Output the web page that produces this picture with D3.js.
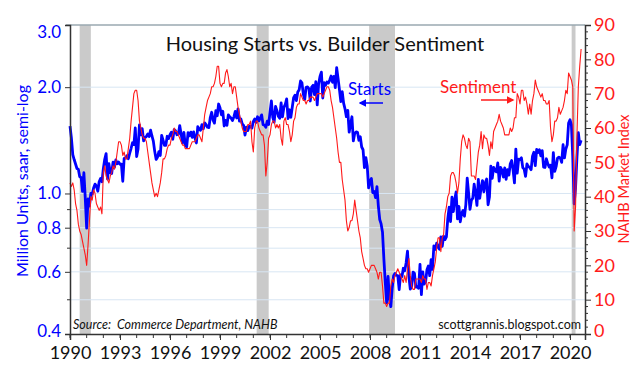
<!DOCTYPE html>
<html lang="en">
<head>
    <meta charset="UTF-8">
    <title>Housing Starts vs. Builder Sentiment</title>
    <script src="https://d3js.org/d3.v7.min.js"></script>
    <style>
        body { margin: 0; padding: 0; background: #fff; }
        svg { display: block; font-family: "Lato", "Open Sans", sans-serif; }
    </style>
</head>
<body>
<div id="chart"></div>
<script>
    // monthly data, Jan 1990 .. Sep 2020
    const firstYear = 1990;

    // housing starts, thousands, saar
    const startsK = [
        1551, 1437, 1289, 1248, 1212, 1177, 1171, 1115, 1110, 1014, 1145, 969,
        798, 965, 921, 1001, 996, 1036, 1063, 1049, 1015, 1079, 1103, 1079,
        1176, 1250, 1297, 1099, 1214, 1145, 1139, 1226, 1186, 1244, 1214, 1227,
        1210, 1210, 1083, 1258, 1260, 1280, 1254, 1300, 1343, 1392, 1376, 1533,
        1272, 1337, 1564, 1465, 1526, 1409, 1439, 1450, 1474, 1450, 1511, 1455,
        1407, 1316, 1249, 1267, 1314, 1281, 1461, 1416, 1369, 1369, 1452, 1431,
        1467, 1491, 1424, 1516, 1504, 1467, 1472, 1557, 1475, 1392, 1489, 1370,
        1355, 1486, 1457, 1492, 1442, 1494, 1437, 1390, 1546, 1520, 1510, 1566,
        1525, 1584, 1567, 1540, 1536, 1641, 1698, 1614, 1582, 1715, 1660, 1792,
        1748, 1670, 1710, 1553, 1611, 1559, 1669, 1648, 1635, 1608, 1648, 1708,
        1636, 1737, 1604, 1626, 1575, 1559, 1463, 1541, 1507, 1549, 1551, 1532,
        1600, 1625, 1590, 1649, 1605, 1636, 1670, 1567, 1562, 1540, 1602, 1568,
        1698, 1829, 1642, 1592, 1764, 1717, 1655, 1633, 1804, 1648, 1753, 1788,
        1853, 1629, 1726, 1643, 1751, 1867, 1897, 1833, 1939, 1967, 2083, 2057,
        1911, 1846, 1998, 2003, 1981, 1828, 2002, 2024, 1905, 2072, 1782, 2042,
        2144, 2207, 1864, 2061, 2025, 2068, 2054, 2095, 2151, 2065, 2147, 1994,
        2273, 2119, 1969, 1821, 1942, 1802, 1737, 1650, 1720, 1491, 1570, 1649,
        1409, 1480, 1495, 1490, 1415, 1448, 1354, 1330, 1183, 1264, 1197, 1037,
        1084, 1103, 1005, 1013, 973, 1046, 923, 844, 820, 777, 652, 560,
        490, 582, 505, 478, 540, 585, 594, 586, 585, 534, 588, 581,
        614, 604, 636, 687, 583, 536, 546, 599, 594, 543, 545, 539,
        630, 517, 600, 554, 561, 608, 623, 585, 650, 610, 711, 694,
        723, 704, 695, 753, 708, 757, 740, 754, 847, 915, 833, 976,
        888, 962, 1010, 847, 919, 831, 880, 895, 862, 930, 1105, 1003,
        902, 957, 970, 1063, 1002, 925, 1097, 969, 1038, 1088, 1011, 1072,
        1099, 929, 977, 1196, 1103, 1186, 1160, 1152, 1220, 1084, 1185, 1164,
        1113, 1182, 1096, 1168, 1127, 1214, 1240, 1166, 1071, 1336, 1142, 1250,
        1248, 1262, 1184, 1172, 1118, 1212, 1192, 1185, 1168, 1275, 1308, 1200,
        1333, 1307, 1330, 1278, 1323, 1188, 1185, 1254, 1215, 1188, 1203, 1108,
        1305, 1155, 1191, 1259, 1267, 1259, 1225, 1374, 1261, 1337, 1373, 1584,
        1617, 1567, 1269, 934, 1038, 1265, 1487, 1376, 1415
    ];

    // NAHB housing market index
    const nahb = [
        44, 43, 44, 42, 38, 36, 32, 30, 29, 27, 25, 23,
        20, 26, 33, 40, 39, 42, 41, 38, 37, 36, 37, 35,
        47, 49, 46, 45, 44, 46, 47, 49, 48, 50, 53, 56,
        56, 55, 52, 53, 51, 51, 54, 57, 62, 66, 70, 71,
        71, 68, 62, 60, 58, 57, 57, 56, 53, 50, 47, 44,
        42, 40, 41, 40, 42, 44, 47, 51, 51, 52, 54, 55,
        55, 57, 58, 60, 59, 59, 58, 57, 56, 55, 55, 54,
        54, 54, 54, 55, 56, 56, 56, 57, 58, 58, 57, 56,
        60, 64, 66, 68, 69, 70, 72, 72, 73, 75, 78, 78,
        73, 72, 73, 73, 76, 77, 75, 72, 73, 70, 72, 72,
        69, 66, 64, 62, 60, 59, 59, 59, 61, 61, 62, 56,
        53, 60, 62, 62, 60, 59, 58, 58, 55, 46, 50, 57,
        58, 61, 62, 62, 60, 61, 60, 61, 57, 55, 62, 63,
        61, 61, 59, 56, 58, 62, 63, 66, 67, 67, 70, 69,
        68, 68, 67, 68, 68, 69, 69, 69, 68, 69, 70, 70,
        70, 70, 69, 70, 71, 72, 72, 71, 68, 66, 63, 60,
        57, 53, 50, 50, 45, 42, 39, 33, 30, 31, 33, 33,
        35, 39, 36, 33, 30, 28, 24, 22, 20, 19, 19, 18,
        19, 20, 20, 20, 19, 18, 16, 18, 18, 14, 9, 9,
        8, 9, 9, 14, 16, 15, 17, 18, 19, 18, 17, 16,
        15, 17, 15, 19, 22, 17, 14, 13, 13, 16, 16, 16,
        16, 15, 17, 16, 16, 13, 15, 15, 14, 17, 19, 21,
        25, 28, 28, 24, 28, 29, 35, 37, 40, 41, 46, 47,
        47, 46, 44, 41, 44, 51, 56, 58, 57, 55, 54, 57,
        56, 46, 46, 46, 45, 49, 53, 55, 59, 54, 58, 57,
        57, 55, 52, 56, 54, 59, 60, 61, 62, 64, 62, 61,
        60, 58, 58, 58, 58, 60, 59, 60, 63, 63, 70, 69,
        67, 71, 71, 68, 69, 67, 64, 67, 64, 68, 70, 74,
        72, 71, 70, 69, 70, 68, 68, 67, 67, 68, 60, 56,
        58, 62, 62, 63, 66, 64, 65, 66, 68, 71, 70, 76,
        75, 74, 72, 30, 37, 58, 72, 78, 83
    ];

    // recessions [start, end] in fractional years
    const recessions = [[1990.58, 1991.25], [2001.2, 2001.92], [2007.95, 2009.5], [2020.1, 2020.33]];

    const leftTicks = [0.4, 0.6, 0.8, 1.0, 2.0, 3.0];
    const leftMinor = [0.5, 0.7, 0.9];
    const gridValues = [0.5, 0.6, 0.7, 0.8, 0.9, 1.0, 2.0];
    const rightTicks = [0, 10, 20, 30, 40, 50, 60, 70, 80, 90];
    const yearTicks = [1990, 1993, 1996, 1999, 2002, 2005, 2008, 2011, 2014, 2017, 2020];

    const W = 639, H = 373;
    const m = { left: 70, right: 54, top: 25, bottom: 39 };
    const x0 = m.left, x1 = W - m.right, y0 = m.top, y1 = H - m.bottom;

    const svg = d3.select("#chart").append("svg")
        .attr("width", W).attr("height", H);

    const x = d3.scaleLinear().domain([1990, 2020.9]).range([x0, x1]);
    const yL = d3.scaleLog().domain([0.4, 3]).range([y1, y0]);
    const yR = d3.scaleLinear().domain([0, 90]).range([y1, y0]);

    const t = i => firstYear + i / 12;

    // recession bars
    svg.append("g").selectAll("rect")
        .data(recessions)
        .join("rect")
        .attr("x", d => x(d[0]))
        .attr("width", d => x(d[1]) - x(d[0]))
        .attr("y", y0).attr("height", y1 - y0)
        .attr("fill", "#cacaca");

    // gridlines
    svg.append("g").selectAll("line")
        .data(gridValues)
        .join("line")
        .attr("x1", x0).attr("x2", x1)
        .attr("y1", d => yL(d)).attr("y2", d => yL(d))
        .attr("stroke", "#d8e6f3").attr("stroke-width", 1);

    // frame top
    svg.append("line")
        .attr("x1", x0 - 4).attr("x2", x1).attr("y1", y0).attr("y2", y0)
        .attr("stroke", "#9aa8b0").attr("stroke-width", 1.5);

    // lines
    const lineR = d3.line().x((d, i) => x(t(i))).y(d => yR(d));
    const lineL = d3.line().x((d, i) => x(t(i))).y(d => yL(d / 1000));

    svg.append("path").datum(startsK)
        .attr("d", lineL).attr("fill", "none")
        .attr("stroke", "#0000ff").attr("stroke-width", 2.8)
        .attr("stroke-linejoin", "round");

    svg.append("path").datum(nahb)
        .attr("d", lineR).attr("fill", "none")
        .attr("stroke", "#ff1a1a").attr("stroke-width", 1.1)
        .attr("stroke-linejoin", "round");

    // left axis
    const axL = svg.append("g").attr("transform", `translate(${x0},0)`)
        .call(d3.axisLeft(yL).tickValues(leftTicks).tickFormat(d3.format(".1f")).tickSize(5).tickPadding(4));
    axL.append("g").selectAll("line").data(leftMinor).join("line")
        .attr("x1", -3).attr("x2", 0).attr("y1", d => yL(d)).attr("y2", d => yL(d))
        .attr("stroke", "#333");

    // right axis
    const axR = svg.append("g").attr("transform", `translate(${x1},0)`)
        .call(d3.axisRight(yR).tickValues(rightTicks).tickSize(6).tickPadding(3));
    axR.append("g").selectAll("line").data(d3.range(0, 91, 2).filter(v => v % 10)).join("line")
        .attr("x1", 0).attr("x2", 3).attr("y1", d => yR(d)).attr("y2", d => yR(d))
        .attr("stroke", "#333");

    // bottom axis
    const axB = svg.append("g").attr("transform", `translate(0,${y1})`)
        .call(d3.axisBottom(x).tickValues(yearTicks).tickFormat(d3.format("d")).tickSize(6).tickPadding(6));
    axB.append("g").selectAll("line").data(d3.range(1990, 2021)).join("line")
        .attr("x1", d => x(d)).attr("x2", d => x(d)).attr("y1", 0).attr("y2", 4)
        .attr("stroke", "#333");

    [axL, axR, axB].forEach(a => {
        a.select(".domain").attr("stroke", "#333").attr("stroke-width", 1.5);
        a.selectAll(".tick line").attr("stroke", "#333");
        a.selectAll("text").attr("font-family", "Lato, sans-serif").attr("font-size", 18);
    });
    axL.selectAll("text").attr("fill", "#0000ff").attr("font-size", 17);
    // keep end labels inside the frame like the original
    axL.selectAll(".tick text").attr("dy", d => d === 3 ? "0.75em" : d === 0.4 ? "0.15em" : "0.32em");
    axR.selectAll("text").attr("fill", "#ff1a1a");
    axR.selectAll(".tick text").attr("dy", d => d === 0 ? "0.15em" : "0.32em");
    axB.selectAll("text").attr("fill", "#111").attr("font-size", 18);

    // axis titles
    svg.append("text")
        .attr("transform", "translate(28,181) rotate(-90)")
        .attr("text-anchor", "middle").attr("font-size", 16)
        .attr("fill", "#0000ff")
        .text("Million Units, saar, semi-log");

    svg.append("text")
        .attr("transform", "translate(629,179) rotate(-90)")
        .attr("text-anchor", "middle").attr("font-size", 14.5)
        .attr("fill", "#ff1a1a")
        .text("NAHB Market Index");

    // title
    svg.append("text")
        .attr("x", 325).attr("y", 51)
        .attr("text-anchor", "middle").attr("font-size", 20)
        .attr("fill", "#111")
        .text("Housing Starts vs. Builder Sentiment");

    // notes
    svg.append("text")
        .attr("x", 73).attr("y", 329)
        .attr("font-size", 12.5).attr("font-style", "italic").attr("fill", "#111")
        .attr("xml:space", "preserve")
        .text("Source:  Commerce Department, NAHB");

    svg.append("text")
        .attr("x", 581).attr("y", 329)
        .attr("text-anchor", "end").attr("font-size", 12.5).attr("fill", "#111")
        .text("scottgrannis.blogspot.com");

    // annotations
    const defs = svg.append("defs");
    [["headBlue", "#0000ff"], ["headRed", "#ff1a1a"]].forEach(([id, c]) => {
        defs.append("marker").attr("id", id)
            .attr("viewBox", "0 0 10 10").attr("refX", 8).attr("refY", 5)
            .attr("markerWidth", 5).attr("markerHeight", 5).attr("orient", "auto")
            .append("path").attr("d", "M0,0 L10,5 L0,10 Z").attr("fill", c);
    });

    svg.append("text").attr("x", 348).attr("y", 95)
        .attr("font-size", 17).attr("fill", "#0000ff").text("Starts");
    svg.append("line").attr("x1", 383).attr("x2", 360).attr("y1", 103).attr("y2", 103)
        .attr("stroke", "#0000ff").attr("stroke-width", 1.5).attr("marker-end", "url(#headBlue)");

    svg.append("text").attr("x", 440).attr("y", 93)
        .attr("font-size", 17).attr("fill", "#ff1a1a").text("Sentiment");
    svg.append("line").attr("x1", 481).attr("x2", 513).attr("y1", 100).attr("y2", 100)
        .attr("stroke", "#ff1a1a").attr("stroke-width", 1.5).attr("marker-end", "url(#headRed)");
</script>
</body>
</html>
